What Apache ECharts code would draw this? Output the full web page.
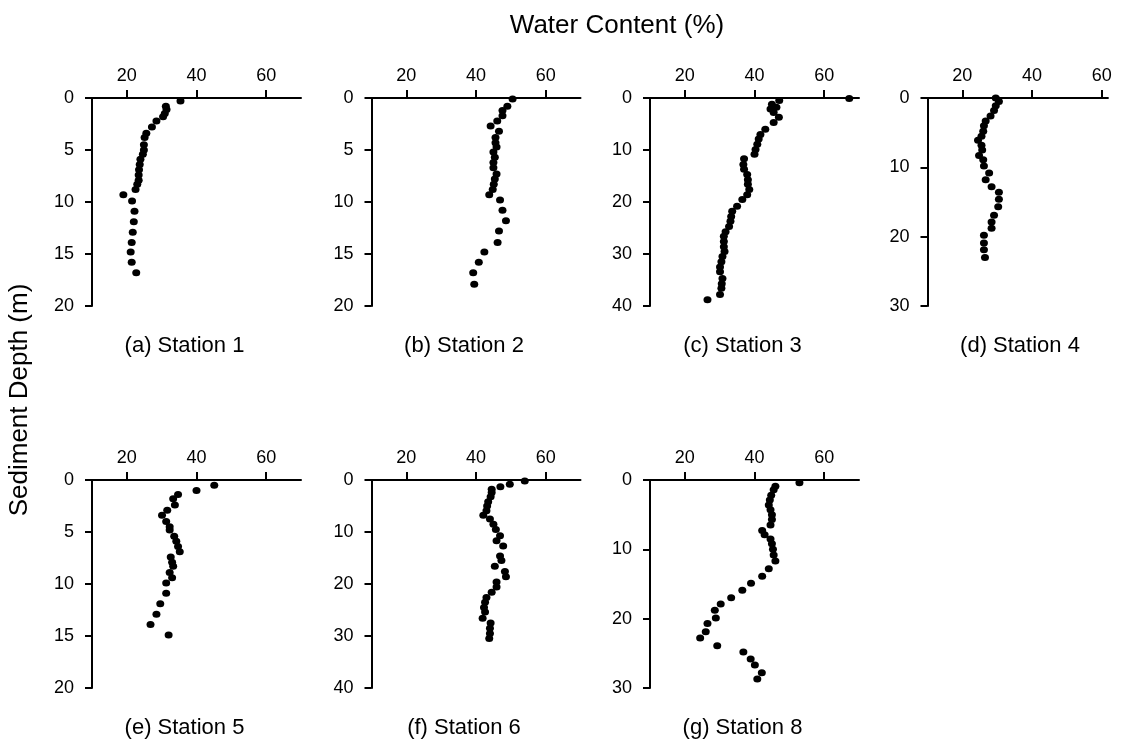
<!DOCTYPE html>
<html>
<head>
<meta charset="utf-8">
<script src="https://cdn.jsdelivr.net/npm/echarts@6/dist/echarts.min.js"></script>
<style>
  html, body { margin: 0; padding: 0; background: #fff; }
  #chart { width: 1126px; height: 743px; }
</style>
</head>
<body>
<div id="chart"></div>
<script>
// water content (%) vs sediment depth (m), one pair of arrays per station
const s1Water = [35.4, 31.2, 31.4, 30.9, 30.4, 28.5, 27.2, 25.6, 25.1, 24.9, 24.9, 24.6, 23.9, 23.7, 23.5, 23.4, 23.4, 23.0, 22.5, 19.0, 21.5, 22.2, 22.0, 21.7, 21.4, 21.1, 21.4, 22.7];
const s1Depth = [0.3, 0.8, 1.1, 1.5, 1.8, 2.2, 2.8, 3.4, 3.8, 4.5, 5.0, 5.4, 5.9, 6.4, 6.9, 7.4, 7.9, 8.3, 8.8, 9.3, 9.9, 10.9, 11.9, 12.9, 13.9, 14.8, 15.8, 16.8];

const s2Water = [50.5, 49.0, 47.6, 47.6, 46.1, 44.2, 46.6, 45.6, 45.6, 45.9, 45.0, 45.4, 45.0, 45.0, 45.9, 45.4, 45.1, 44.8, 43.8, 46.9, 47.6, 48.6, 46.6, 46.2, 42.4, 40.8, 39.2, 39.5];
const s2Depth = [0.1, 0.8, 1.2, 1.7, 2.2, 2.7, 3.2, 3.8, 4.3, 4.7, 5.2, 5.7, 6.2, 6.7, 7.3, 7.8, 8.3, 8.8, 9.3, 9.8, 10.8, 11.8, 12.8, 13.9, 14.8, 15.8, 16.8, 17.9];

const s3Water = [67.2, 47.1, 45.0, 46.3, 44.6, 45.5, 47.0, 45.5, 43.1, 41.7, 41.2, 40.8, 40.3, 40.0, 37.0, 36.8, 37.0, 37.9, 38.1, 38.1, 38.5, 37.9, 36.5, 35.0, 33.6, 33.3, 33.1, 32.7, 31.7, 31.2, 31.2, 31.2, 31.4, 30.8, 30.5, 30.1, 30.1, 30.8, 30.6, 30.5, 30.1, 26.5];
const s3Depth = [0.1, 0.5, 1.2, 1.8, 2.1, 2.8, 3.7, 4.7, 6.0, 7.0, 7.9, 8.9, 9.9, 10.8, 11.7, 12.8, 13.7, 14.7, 15.7, 16.6, 17.6, 18.6, 19.5, 20.8, 21.8, 22.8, 23.7, 24.7, 25.7, 26.6, 27.6, 28.6, 29.5, 30.5, 31.5, 32.5, 33.4, 34.7, 35.7, 36.6, 37.8, 38.8];

const s4Water = [29.6, 30.5, 29.6, 29.1, 28.1, 26.7, 26.2, 26.0, 25.5, 24.5, 25.5, 25.7, 24.8, 26.0, 26.2, 27.7, 26.7, 28.4, 30.5, 30.5, 30.3, 29.1, 28.4, 28.4, 26.2, 26.2, 26.2, 26.5];
const s4Depth = [0.0, 0.5, 1.1, 1.8, 2.6, 3.3, 4.0, 4.8, 5.5, 6.1, 6.8, 7.5, 8.3, 8.9, 9.8, 10.8, 11.8, 12.8, 13.6, 14.6, 15.7, 16.9, 17.9, 18.8, 19.8, 20.9, 21.9, 23.0];

const s5Water = [45.1, 40.0, 34.7, 33.3, 33.8, 31.6, 30.1, 31.3, 32.3, 32.3, 33.6, 34.2, 34.7, 35.2, 32.6, 33.0, 33.3, 32.3, 33.0, 31.3, 31.3, 29.6, 28.5, 26.8, 32.0];
const s5Depth = [0.5, 1.0, 1.4, 1.8, 2.4, 2.9, 3.4, 4.0, 4.5, 4.8, 5.4, 5.9, 6.4, 6.9, 7.4, 7.9, 8.3, 8.9, 9.4, 9.9, 10.9, 11.9, 12.9, 13.9, 14.9];

const s6Water = [54.0, 49.7, 47.0, 44.5, 44.5, 44.2, 43.5, 43.2, 43.0, 42.1, 44.0, 45.0, 45.7, 46.9, 45.9, 47.8, 46.9, 47.3, 45.4, 48.3, 48.6, 45.9, 45.9, 44.5, 43.0, 42.6, 42.3, 42.6, 41.9, 44.2, 44.0, 44.0, 43.8];
const s6Depth = [0.2, 0.8, 1.3, 1.8, 2.4, 3.2, 4.2, 5.0, 5.9, 6.8, 7.5, 8.5, 9.5, 10.7, 11.7, 12.7, 14.6, 15.5, 16.6, 17.6, 18.6, 19.6, 20.6, 21.6, 22.6, 23.5, 24.5, 25.4, 26.6, 27.5, 28.5, 29.5, 30.5];

const s8Water = [52.9, 46.0, 45.5, 44.8, 44.4, 44.1, 44.6, 45.0, 45.0, 44.6, 42.2, 42.9, 44.6, 45.0, 45.3, 45.5, 46.0, 44.1, 42.2, 39.0, 36.5, 33.3, 30.3, 28.6, 28.9, 26.5, 26.0, 24.4, 29.3, 36.8, 38.9, 40.1, 42.1, 40.8];
const s8Depth = [0.4, 0.9, 1.4, 2.2, 2.9, 3.6, 4.3, 5.0, 5.7, 6.5, 7.3, 7.9, 8.5, 9.2, 10.0, 10.8, 11.7, 12.8, 13.9, 14.9, 15.9, 17.0, 17.9, 18.8, 19.9, 20.7, 21.9, 22.8, 23.9, 24.8, 25.8, 26.7, 27.8, 28.7];

const waterTicks = [20, 40, 60];
const stationTitles = ['(a) Station 1', '(b) Station 2', '(c) Station 3', '(d) Station 4', '(e) Station 5', '(f) Station 6', '(g) Station 8'];
const depthMax = [20, 20, 40, 30, 20, 40, 30];
const depthStep = [5, 5, 10, 10, 5, 10, 10];
// panel (d) is cut short on the right in the source figure
const waterMax = [70, 70, 70, 61.8, 70, 70, 70];

const panels = [
    [s1Water, s1Depth], [s2Water, s2Depth], [s3Water, s3Depth], [s4Water, s4Depth],
    [s5Water, s5Depth], [s6Water, s6Depth], [s8Water, s8Depth]
];

const font = 'Arial, "Liberation Sans", sans-serif';
const lefts = [92, 371.5, 650, 927.5];
const tops = [98, 480];
const pxPerUnit = 209 / 60;
const gridH = 208;

const grid = [], xAxis = [], yAxis = [], series = [], title = [];

panels.forEach((p, i) => {
    const col = i % 4;
    const row = Math.floor(i / 4);
    const w = (waterMax[i] - 10) * pxPerUnit;
    grid.push({ left: lefts[col], top: tops[row], width: w, height: gridH });
    xAxis.push({
        gridIndex: i,
        type: 'value',
        position: 'top',
        min: 10,
        max: waterMax[i],
        axisLine: { onZero: false, lineStyle: { color: '#000', width: 2 } },
        axisTick: { show: true, length: 8, lineStyle: { color: '#000', width: 2 }, customValues: waterTicks },
        axisLabel: { color: '#000', fontSize: 18, fontFamily: font, margin: 13, customValues: waterTicks },
        splitLine: { show: false }
    });
    yAxis.push({
        gridIndex: i,
        type: 'value',
        inverse: true,
        min: 0,
        max: depthMax[i],
        interval: depthStep[i],
        axisLine: { show: true, onZero: false, lineStyle: { color: '#000', width: 2 } },
        axisTick: { show: true, length: 7, lineStyle: { color: '#000', width: 2 } },
        axisLabel: { color: '#000', fontSize: 18, fontFamily: font, margin: 18 },
        splitLine: { show: false }
    });
    series.push({
        type: 'scatter',
        xAxisIndex: i,
        yAxisIndex: i,
        symbol: 'circle',
        symbolSize: [8, 7],
        clip: false,
        itemStyle: { color: '#000', opacity: 1 },
        data: p[0].map((w, k) => [w, p[1][k]])
    });
    title.push({
        text: stationTitles[i],
        left: lefts[col] + 92.5,
        top: tops[row] + gridH + 40,
        textAlign: 'center',
        textVerticalAlign: 'middle',
        padding: 0,
        textStyle: { color: '#000', fontSize: 22, fontWeight: 'normal', fontFamily: font }
    });
});

const chart = echarts.init(document.getElementById('chart'));
chart.setOption({
    animation: false,
    backgroundColor: '#fff',
    title: title,
    grid: grid,
    xAxis: xAxis,
    yAxis: yAxis,
    series: series,
    graphic: [
        {
            type: 'text', x: 617, y: 26,
            style: { text: 'Water Content (%)', fontSize: 26, fontFamily: font, fill: '#000', align: 'center', verticalAlign: 'middle' }
        },
        {
            type: 'text', x: 20, y: 400, rotation: Math.PI / 2,
            style: { text: 'Sediment Depth (m)', fontSize: 26, fontFamily: font, fill: '#000', align: 'center', verticalAlign: 'middle' }
        }
    ]
});
</script>
</body>
</html>
